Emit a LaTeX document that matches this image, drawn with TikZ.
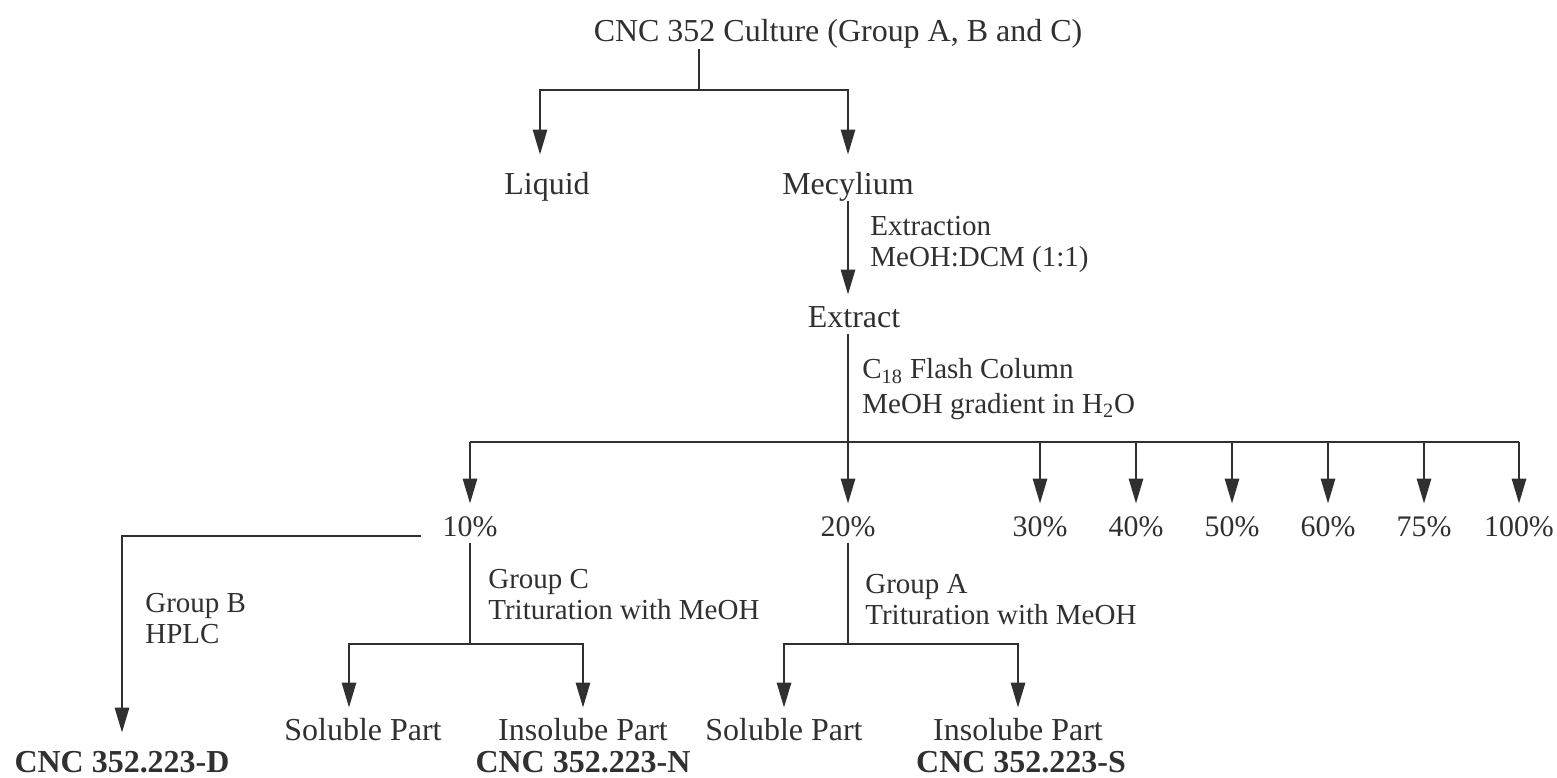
\documentclass[tikz,border=0pt]{standalone}
\usepackage{fontspec}
\setmainfont{Liberation Serif}
\usepackage{tikz}
\usetikzlibrary{arrows.meta,positioning,calc}

\definecolor{ink}{HTML}{303030}

\begin{document}
\begin{tikzpicture}[
				x=0.02cm, y=-0.02cm,
				font=\fontsize{18.2pt}{17.6pt}\selectfont, text=ink,
				lbl/.style={inner sep=0pt, text height=0.44cm, text depth=0.14cm, anchor=base},
				pct/.style={lbl, font=\fontsize{17pt}{17.6pt}\selectfont},
				res/.style={lbl, font=\fontsize{18.2pt}{17.6pt}\selectfont\bfseries},
				note/.style={inner sep=0pt, align=left, anchor=north west, font=\fontsize{16.5pt}{17.6pt}\selectfont},
				line/.style={draw=ink, line width=1.6pt},
				arr/.style={line, -{Triangle[length=0.5cm, width=0.28cm]}, shorten >=0.2cm}
				]
				\useasboundingbox (0,0) rectangle (1557,777);
				
				\node[lbl] (cult) at (838,42) {CNC 352 Culture (Group A, B and C)};
				\node[lbl] (liq) at (547,194) {Liquid};
				\node[lbl] (mecy) at (848,194) {Mecylium};
				\node[lbl] (extr) at (854,327) {Extract};
				
				\node[note] (n1) at (870,216) {Extraction\\MeOH:DCM (1:1)};
				\node[note] (n2) at (862,358) {C\textsubscript{18} Flash Column\\[0.08cm]MeOH gradient in H\textsubscript{2}O};
				
				\foreach \v/\x in {10/470,20/848,30/1040,40/1136,50/1232,60/1328,75/1424,100/1519}
				\node[pct] (p\v) at (\x,536) {\v\%};
				
				\node[res] (cncd) at (122,772) {CNC 352.223-D};
				\node[note] (n3) at (145,593) {Group B\\HPLC};
				
				\node[note] (n4) at (488,569) {Group C\\Trituration with MeOH};
				\node[lbl] (sol1) at (363,740) {Soluble Part};
				\node[lbl] (ins1) at (583,740) {Insolube Part};
				\node[res] (cncn) at (583,772) {CNC 352.223-N};
				
				\node[note] (n5) at (865,574) {Group A\\Trituration with MeOH};
				\node[lbl] (sol2) at (784,740) {Soluble Part};
				\node[lbl] (ins2) at (1018,740) {Insolube Part};
				\node[res] (cncs) at (1021,772) {CNC 352.223-S};
				
				\coordinate (c0) at (699,90);
				\coordinate (split) at (848,442);
				\coordinate (b10) at (470,644);
				\coordinate (b20) at (848,644);
				
				% culture
				\draw[line] (c0 |- cult.south) -- (c0);
				\draw[arr, shorten >=0.34cm] (c0) -| ([xshift=-0.14cm]liq.north);
				\draw[arr, shorten >=0.34cm] (c0) -| (mecy);
				\draw[arr] (mecy) -- (mecy |- extr.north);
				
				% flash column
				\draw[line] (split |- extr.south) -- (split);
				\draw[line] (p10 |- split) -- (p100 |- split);
				\foreach \v in {10,20,30,40,50,60,75,100}
				\draw[arr] (p\v |- split) -- (p\v);
				
				% 10 %
				\draw[arr, shorten >=0.34cm] ([xshift=-0.42cm]p10.base west) -| (cncd);
				\draw[line] (p10) -- (b10);
				\draw[arr] (b10) -| ([xshift=-0.28cm]sol1.north);
				\draw[arr] (b10) -| (ins1);
				
				% 20 %
				\draw[line] (p20) -- (b20);
				\draw[arr] (b20) -| (sol2);
				\draw[arr] (b20) -| (ins2);
				
			\end{tikzpicture}
\end{document}
